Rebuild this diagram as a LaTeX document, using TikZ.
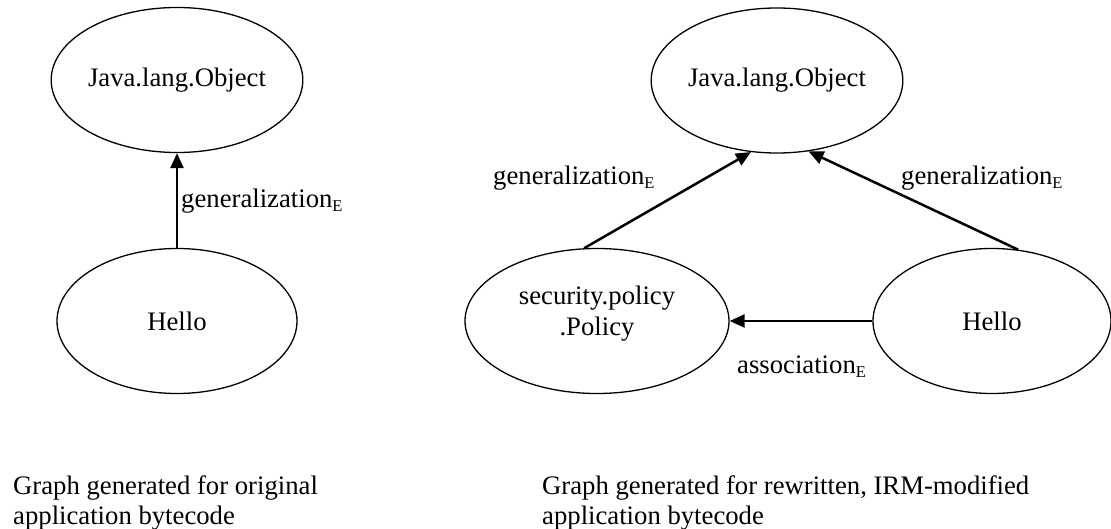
\documentclass[tikz,border=0pt]{standalone}
\usepackage{fontspec}
\setmainfont{Liberation Serif}
\usetikzlibrary{shapes.geometric,arrows.meta}

% subscript used on the edge labels
\newcommand{\subE}{\raisebox{-4pt}{\fontsize{16.5}{16.5}\selectfont E}}

\begin{document}
\begin{tikzpicture}[x=1pt,y=-1pt,
  every node/.style={font=\fontsize{26.7}{30.7}\selectfont},
  cls/.style={ellipse, draw, line width=1.3pt, inner sep=0pt,
              minimum width=240pt, minimum height=145pt, align=center},
  edge/.style={line width=2.5pt, -{Triangle[length=15pt,width=13pt]}},
  elabel/.style={anchor=base west, inner sep=0pt},
  caption/.style={anchor=north west, inner sep=0pt, align=left}]

\useasboundingbox (0,0) rectangle (1111,529);

% original application
\node[cls] (lobj) at (177,80) {Java.lang.Object};
\node[cls] (lhello) at (177,321) {Hello};
\draw[edge] (lhello.north) -- (lobj.south);
\node[elabel] (lgen) at (181,208) {generalization\subE};

% rewritten application
\node[cls] (robj) at (777,80.5) {Java.lang.Object};
\node[cls, minimum width=264pt, text depth=20pt] (rpol) at (597,321) {security.policy\\.Policy};
\node[cls, minimum width=238pt] (rhello) at (992,321) {Hello};
\draw[edge] (rpol.100.9) -- (robj.250.7);
\draw[edge] (rhello.70.4) -- (robj.294.5);
\draw[edge] (rhello.west) -- (rpol.east);
\node[elabel] (rgen1) at (493,185) {generalization\subE};
\node[elabel] (rgen2) at (901,185) {generalization\subE};
\node[elabel] (rassoc) at (737,373) {association\subE};

% captions
\node[caption] (capl) at (13,475) {Graph generated for original\\application bytecode};
\node[caption] (capr) at (542,475) {Graph generated for rewritten, IRM-modified\\application bytecode};
\end{tikzpicture}
\end{document}
